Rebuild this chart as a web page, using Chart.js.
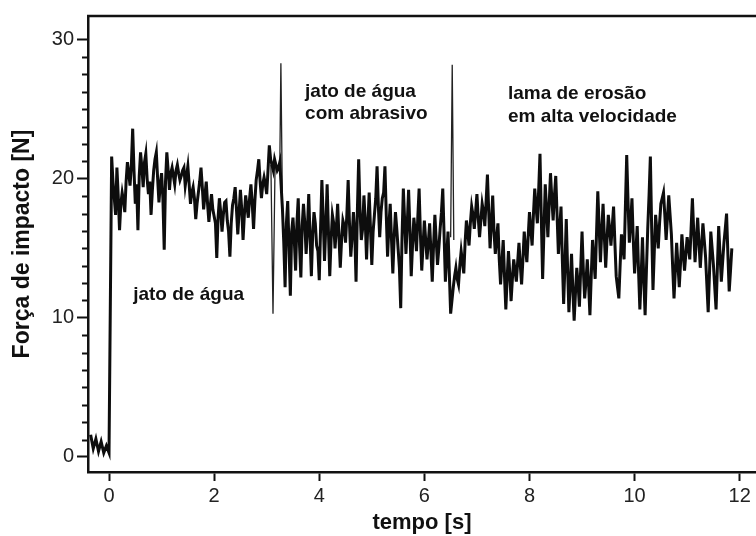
<!DOCTYPE html>
<html>
<head>
<meta charset="utf-8">
<script src="https://cdn.jsdelivr.net/npm/chart.js@4/dist/chart.umd.min.js"></script>
<style>
html,body{margin:0;padding:0;background:#fff;}
canvas{display:block;}
</style>
</head>
<body>
<canvas id="c" width="756" height="536"></canvas>
<script>
// time axis [s] (main samples)
const tempo = [
-0.35,-0.30,-0.25,-0.20,-0.15,-0.10,-0.05,0.00,
0.05,0.10,0.15,0.20,0.25,0.30,0.35,0.40,0.45,0.50,0.55,0.60,0.65,0.70,0.75,0.80,0.85,0.90,0.95,1.00,
1.05,1.10,1.15,1.20,1.25,1.30,1.35,1.40,1.45,1.50,1.55,1.60,1.65,1.70,1.75,1.80,1.85,1.90,1.95,2.00,
2.05,2.10,2.15,2.20,2.25,2.30,2.35,2.40,2.45,2.50,2.55,2.60,2.65,2.70,2.75,2.80,2.85,2.90,2.95,3.00,
3.05,3.10,3.15,3.20,3.25,
3.30,3.35,3.40,3.45,3.50,3.55,3.60,3.65,3.70,3.75,3.80,3.85,3.90,3.95,4.00,
4.05,4.10,4.15,4.20,4.25,4.30,4.35,4.40,4.45,4.50,4.55,4.60,4.65,4.70,4.75,4.80,4.85,4.90,4.95,5.00,
5.05,5.10,5.15,5.20,5.25,5.30,5.35,5.40,5.45,5.50,5.55,5.60,5.65,5.70,5.75,5.80,5.85,5.90,5.95,6.00,
6.05,6.10,6.15,6.20,6.25,6.30,6.35,6.40,6.45,6.50,
6.55,6.60,6.65,6.70,6.75,6.80,6.85,6.90,6.95,7.00,7.05,7.10,7.15,7.20,7.25,7.30,7.35,7.40,7.45,7.50,
7.55,7.60,7.65,7.70,7.75,7.80,7.85,7.90,7.95,8.00,8.05,8.10,8.15,8.20,8.25,8.30,8.35,8.40,8.45,8.50,
8.55,8.60,8.65,8.70,8.75,8.80,8.85,8.90,8.95,9.00,9.05,9.10,9.15,9.20,9.25,9.30,9.35,9.40,9.45,9.50,
9.55,9.60,9.65,9.70,9.75,9.80,9.85,9.90,9.95,10.00,10.05,10.10,10.15,10.20,10.25,10.30,10.35,10.40,10.45,10.50,
10.55,10.60,10.65,10.70,10.75,10.80,10.85,10.90,10.95,11.00,11.05,11.10,11.15,11.20,11.25,11.30,11.35,11.40,11.45,11.50,
11.55,11.60,11.65,11.70,11.75,11.80,11.85
];
// impact force [N] (main samples)
const forca = [
1.6,0.6,1.3,0.4,1.1,0.3,0.8,0.3,
21.6,18.6,20.8,16.3,19.0,17.6,21.2,19.5,23.6,18.2,16.3,21.9,19.4,21.8,18.9,17.4,20.6,21.9,18.3,20.4,
14.9,21.9,19.2,20.8,19.6,21.0,19.9,20.6,19.5,20.9,18.2,19.4,17.1,19.0,20.8,17.8,19.8,16.9,18.9,17.3,
14.3,18.6,16.2,18.3,17.0,14.4,18.1,19.4,16.0,19.2,15.6,18.8,17.2,19.6,16.4,19.9,21.4,18.6,20.1,18.9,
22.4,21.0,21.4,20.6,21.2,
17.8,12.2,18.4,11.6,17.2,13.4,18.6,12.9,18.2,14.6,18.9,13.0,17.6,15.2,12.7,
19.9,14.1,19.6,13.0,17.4,15.0,18.2,13.6,17.0,15.4,19.9,14.4,17.6,12.6,21.4,15.6,18.8,14.2,19.0,13.8,
17.4,20.9,15.8,18.6,20.9,14.4,18.2,13.2,17.6,15.0,10.7,19.3,14.6,19.2,13.0,17.2,14.8,19.3,13.4,17.0,
14.2,16.8,12.6,17.4,13.8,16.4,19.3,12.6,16.2,10.3,
12.2,13.6,12.4,14.8,13.2,17.0,15.2,18.0,16.4,18.9,15.8,18.2,16.6,20.3,15.0,18.8,14.6,16.8,12.4,15.6,
10.6,14.8,11.2,14.2,12.6,15.4,12.4,16.2,14.0,17.6,15.2,19.3,16.8,21.8,12.8,19.6,15.8,20.4,17.0,20.2,
14.6,18.0,11.0,17.1,10.4,14.6,9.8,13.6,10.8,16.2,11.4,14.2,10.2,15.6,12.8,19.1,14.0,18.2,13.6,17.4,
15.2,18.0,13.0,11.4,16.0,14.2,21.7,15.4,18.6,13.2,16.6,10.6,15.8,10.2,16.4,21.6,12.0,17.4,15.0,18.2,
19.0,15.6,18.8,16.0,11.4,15.4,12.2,16.0,13.4,15.8,14.2,18.6,14.0,17.2,13.6,16.8,14.4,10.4,16.2,13.8,
10.6,16.6,12.6,15.4,17.5,11.9,15.0
];
// intermediate samples [s]
const tempoMeio = [
0.075,0.125,0.175,0.225,0.275,0.325,0.375,0.425,0.475,0.525,
0.575,0.625,0.675,0.725,0.775,0.825,0.875,0.925,0.975,1.025,
1.075,1.125,1.175,1.225,1.275,1.325,1.375,1.425,1.475,1.525,
1.575,1.625,1.675,1.725,1.775,1.825,1.875,1.925,1.975,2.025,
2.075,2.125,2.175,2.225,2.275,2.325,2.375,2.425,2.475,2.525,
2.575,2.625,2.675,2.725,2.775,2.825,2.875,2.925,2.975,3.025,
3.075,3.125,3.175,3.225,
3.325,3.375,3.425,3.475,3.525,3.575,3.625,3.675,3.725,3.775,
3.825,3.875,3.925,3.975,4.025,4.075,4.125,4.175,4.225,4.275,
4.325,4.375,4.425,4.475,4.525,4.575,4.625,4.675,4.725,4.775,
4.825,4.875,4.925,4.975,5.025,5.075,5.125,5.175,5.225,5.275,
5.325,5.375,5.425,5.475,5.525,5.575,5.625,5.675,5.725,5.775,
5.825,5.875,5.925,5.975,6.025,6.075,6.125,6.175,6.225,6.275,
6.325,6.375,6.425,6.475,
6.575,6.625,6.675,6.725,6.775,6.825,6.875,6.925,6.975,7.025,
7.075,7.125,7.175,7.225,7.275,7.325,7.375,7.425,7.475,7.525,
7.575,7.625,7.675,7.725,7.775,7.825,7.875,7.925,7.975,8.025,
8.075,8.125,8.175,8.225,8.275,8.325,8.375,8.425,8.475,8.525,
8.575,8.625,8.675,8.725,8.775,8.825,8.875,8.925,8.975,9.025,
9.075,9.125,9.175,9.225,9.275,9.325,9.375,9.425,9.475,9.525,
9.575,9.625,9.675,9.725,9.775,9.825,9.875,9.925,9.975,10.025,
10.075,10.125,10.175,10.225,10.275,10.325,10.375,10.425,10.475,10.525,
10.575,10.625,10.675,10.725,10.775,10.825,10.875,10.925,10.975,11.025,
11.075,11.125,11.175,11.225,11.275,11.325,11.375,11.425,11.475,11.525,
11.575,11.625,11.675,11.725,11.775,11.825
];
const forcaMeio = [
19.8,17.4,18.8,18.2,18.4,19.8,20.4,21.0,20.6,19.6,
20.2,20.8,21.2,20.0,19.8,19.2,21.4,20.0,19.6,18.6,
19.8,20.6,20.4,20.2,20.6,20.4,20.2,20.8,20.2,19.6,
19.0,18.6,18.2,19.8,19.4,18.8,18.2,18.0,17.8,16.8,
17.2,17.6,17.4,18.4,16.2,16.8,18.6,17.8,17.6,17.8,
17.4,18.0,18.6,18.2,18.4,20.6,19.8,19.6,19.6,20.6,
21.4,20.6,21.0,20.8,
15.4,16.8,15.0,16.2,15.6,16.8,15.2,16.6,16.8,16.4,
15.8,16.0,16.8,14.8,16.4,17.2,16.6,16.2,15.6,16.8,
16.4,15.8,15.6,16.6,17.4,16.8,15.8,16.2,17.6,17.8,
16.4,17.0,16.8,16.4,16.2,18.6,18.0,17.6,19.0,17.4,
16.6,15.6,15.8,16.4,13.6,15.8,17.0,16.8,16.4,15.2,
16.2,17.2,16.0,15.2,15.6,15.4,14.8,15.2,15.6,15.0,
17.6,16.0,14.4,13.2,
13.0,12.8,13.8,14.0,15.4,16.2,16.8,17.4,17.6,17.2,
17.0,17.6,18.4,17.6,16.8,16.2,15.8,14.2,14.0,13.0,
12.8,13.2,12.8,13.4,14.0,13.8,14.2,15.0,15.8,16.4,
17.4,18.0,19.2,17.2,16.2,17.8,18.2,18.6,18.8,17.4,
16.4,14.2,13.8,13.6,12.4,12.0,11.8,12.4,13.6,13.4,
12.6,12.4,13.0,14.2,16.0,16.6,16.2,15.8,15.6,16.4,
16.6,15.4,12.2,13.8,15.2,18.0,18.4,16.8,15.6,14.8,
13.4,13.0,12.8,13.4,18.8,16.4,14.8,16.2,16.8,18.6,
17.4,17.2,17.4,13.6,13.4,13.8,14.0,14.6,14.6,15.0,
16.4,16.2,15.6,15.4,15.2,15.6,12.4,13.2,15.0,12.2,
13.6,14.6,14.0,16.4,14.6,13.4
];
// thin transient lines (null separates them)
const picoTempo = [3.08, 3.12, 3.16, null, 3.25, 3.27, 3.30, null, 6.50, 6.53, 6.56];
const picoForca = [21.0, 10.3, 21.2, null, 21.2, 28.3, 17.8, null, 15.8, 28.2, 15.6];

const xTicks = [0, 2, 4, 6, 8, 10, 12];
const yTicks = [0, 10, 20, 30];

const rotulos = [
  {linhas: ['jato de água'], t: 0.46, f: 11.3},
  {linhas: ['jato de água', 'com abrasivo'], t: 3.73, f: 25.9},
  {linhas: ['lama de erosão', 'em alta velocidade'], t: 7.59, f: 25.7}
];

const FONT = '"Liberation Sans", Arial, sans-serif';

const mainData = tempo.map((t, i) => ({x: t, y: forca[i]}))
  .concat(tempoMeio.map((t, i) => ({x: t, y: forcaMeio[i]})))
  .sort((a, b) => a.x - b.x);
const picoData = picoTempo.map((t, i) => (t === null ? {x: null, y: null} : {x: t, y: picoForca[i]}));

const decor = {
  id: 'decor',
  afterDraw(chart) {
    const ctx = chart.ctx;
    const a = chart.chartArea;
    const ys = chart.scales.y;
    ctx.save();
    ctx.strokeStyle = '#111';
    ctx.lineWidth = 2.5;
    ctx.beginPath();
    ctx.moveTo(a.left - 1, a.top);
    ctx.lineTo(a.right, a.top);
    ctx.stroke();
    ctx.lineWidth = 2;
    ys.ticks.forEach(tk => {
      if (tk.value >= 0 && tk.value <= 30 && Math.abs(tk.value % 10) > 1e-6) {
        const p = Math.round(ys.getPixelForValue(tk.value)) + 0.5;
        ctx.beginPath();
        ctx.moveTo(a.left - 6, p);
        ctx.lineTo(a.left, p);
        ctx.stroke();
      }
    });
    const xs = chart.scales.x;
    ctx.fillStyle = '#111';
    ctx.font = 'bold 19px ' + FONT;
    ctx.textAlign = 'left';
    ctx.textBaseline = 'alphabetic';
    rotulos.forEach(r => {
      const px = xs.getPixelForValue(r.t);
      const py = ys.getPixelForValue(r.f);
      r.linhas.forEach((l, k) => ctx.fillText(l, px, py + k * 22.5));
    });
    ctx.restore();
  }
};

new Chart(document.getElementById('c'), {
  type: 'line',
  data: {
    datasets: [
      {data: mainData, borderColor: '#0d0d0d', borderWidth: 3, pointRadius: 0, tension: 0, fill: false},
      {data: picoData, borderColor: '#222', borderWidth: 1.3, pointRadius: 0, tension: 0, fill: false, spanGaps: false}
    ]
  },
  options: {
    responsive: false,
    animation: false,
    events: [],
    layout: {padding: {top: 16, right: 0, left: 0, bottom: 0}},
    plugins: {legend: {display: false}, tooltip: {enabled: false}},
    scales: {
      x: {
        type: 'linear',
        min: -0.40,
        max: 12.31,
        afterFit(s) { s.height = 64; },
        afterBuildTicks(s) { s.ticks = xTicks.map(v => ({value: v})); },
        border: {display: true, color: '#111', width: 2.5},
        grid: {display: true, drawOnChartArea: false, drawTicks: true, tickLength: 9, tickColor: '#111', tickWidth: 2},
        ticks: {color: '#222', font: {family: FONT, size: 20}, padding: 3, autoSkip: false, maxRotation: 0},
        title: {display: true, text: 'tempo [s]', color: '#111', font: {family: FONT, size: 22, weight: 'bold'}, padding: {top: 0, bottom: 0}}
      },
      y: {
        type: 'linear',
        min: -1.08,
        max: 31.7,
        afterFit(s) { s.width = 88; },
        afterBuildTicks(s) {
          const t = [];
          for (let k = 0; k <= 24; k++) t.push({value: k * 1.25});
          s.ticks = t;
        },
        border: {display: true, color: '#111', width: 2.5},
        grid: {
          display: true, drawOnChartArea: false, drawTicks: true, tickLength: 11, tickWidth: 2,
          tickColor: c => (c.tick && Math.abs(c.tick.value % 10) < 1e-6 ? '#111' : 'rgba(0,0,0,0)')
        },
        ticks: {
          color: '#222', font: {family: FONT, size: 20}, padding: 3, autoSkip: false,
          callback: v => (yTicks.includes(v) ? String(v) : '')
        },
        title: {display: true, text: 'Força de impacto [N]', color: '#111', font: {family: FONT, size: 23, weight: 'bold'}, padding: {top: 9, bottom: 0}}
      }
    }
  },
  plugins: [decor]
});
</script>
</body>
</html>
